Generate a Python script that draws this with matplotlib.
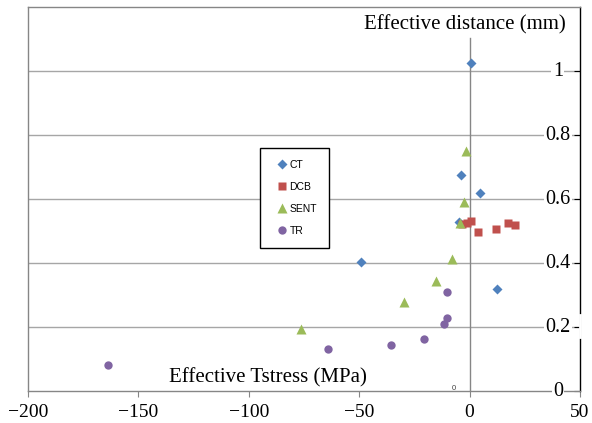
import matplotlib.pyplot as plt

# data
ct_x = [0.5, -4, 4.7, -5, -49, 12.5]
ct_y = [1.025, 0.675, 0.62, 0.528, 0.403, 0.32]
dcb_x = [-3.5, -1, 0.8, 3.8, 12, 17.5, 20.6]
dcb_y = [0.522, 0.525, 0.532, 0.496, 0.507, 0.524, 0.518]
sent_x = [-1.8, -2.7, -4.4, -8, -15, -29.6, -76.5]
sent_y = [0.751, 0.59, 0.526, 0.411, 0.344, 0.279, 0.194]
tr_x = [-163.8, -64.3, -35.6, -20.7, -11.6, -10.4, -10.4]
tr_y = [0.081, 0.130, 0.145, 0.161, 0.209, 0.228, 0.31]

x_ticks = [-200, -150, -100, -50, 0, 50]
y_ticks = [0, 0.2, 0.4, 0.6, 0.8, 1.0]
y_tick_labels = ['0', '0.2', '0.4', '0.6', '0.8', '1']

serif = 'Liberation Serif'
grey = '#868686'

fig = plt.figure(figsize=(5.92, 4.23), dpi=100)
ax = fig.add_axes([28 / 592, 32 / 423, 552 / 592, 384 / 423])
ax.set_xlim(-200, 50)
ax.set_ylim(0, 1.2)

# excel-style grid and value axis at x=0
for yv in y_ticks[1:]:
    ax.axhline(yv, color='#a6a6a6', lw=1, zorder=1)
ax.plot([0, 0], [0, 1.103], color=grey, lw=1, zorder=1)

ax.plot(ct_x, ct_y, 'D', color='#4F81BD', ms=4.8, mec='none', label='CT', zorder=4)
ax.plot(dcb_x, dcb_y, 's', color='#C0504D', ms=6.2, mec='none', label='DCB', zorder=4)
ax.plot(sent_x, sent_y, '^', color='#9BBB59', ms=6.8, mec='none', label='SENT', zorder=4)
ax.plot(tr_x, tr_y, 'o', color='#8064A2', ms=6, mec='none', label='TR', zorder=4)

leg = ax.legend(loc='upper left', bbox_to_anchor=(0.42, 0.633), fancybox=False,
                edgecolor='black', framealpha=1, borderpad=1.15, labelspacing=1.15,
                handlelength=2.0, handletextpad=-0.3, borderaxespad=0,
                prop={'family': 'Liberation Sans', 'size': 7.5})
leg.get_frame().set_linewidth(1)

# spines
for side in ['left', 'top', 'bottom']:
    ax.spines[side].set_color(grey)
    ax.spines[side].set_linewidth(1)
ax.spines['right'].set_color('black')
ax.spines['right'].set_linewidth(1)

ax.set_xticks(x_ticks)
ax.tick_params(axis='x', direction='out', length=4, color=grey, pad=5)
for lab in ax.get_xticklabels():
    lab.set_fontfamily(serif)
    lab.set_fontsize(14)

ax.yaxis.tick_right()
ax.set_yticks(y_ticks)
ax.set_yticklabels([])
ax.tick_params(axis='y', direction='in', length=4, color='black')

# y value labels inside the plot
for yv, txt in zip(y_ticks, y_tick_labels):
    ax.text(40, yv, txt, family=serif, fontsize=14.5, ha='center', va='center',
            bbox=dict(facecolor='white', edgecolor='none', pad=1), zorder=3)

# small gap in the right frame near 0.2
ax.plot([50, 50], [0.17, 0.237], color='white', lw=2, clip_on=False, zorder=3)

ax.text(43.6, 1.144, 'Effective distance (mm)', family=serif, fontsize=15,
        ha='right', va='center')
ax.text(-136, 0.04, 'Effective Tstress (MPa)', family=serif, fontsize=15,
        ha='left', va='center')
ax.text(-7.3, 0.008, '0', family='Liberation Sans', fontsize=5.5,
        ha='center', va='center', color='#404040')

fig.savefig('out.png', dpi=100)
